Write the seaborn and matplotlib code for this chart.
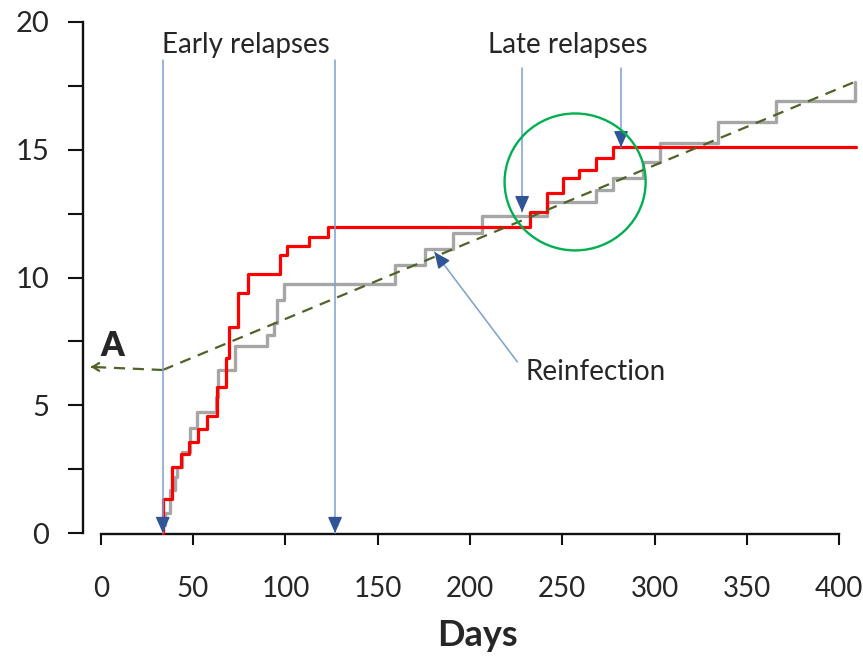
import matplotlib
matplotlib.use("Agg")
import matplotlib.pyplot as plt
from matplotlib.patches import Ellipse
import seaborn as sns
import pandas as pd

# ---- data ----
red_days = [33.6, 33.6, 38.6, 43.3, 48.0, 52.9, 57.7, 62.8, 67.9, 69.6, 74.5, 79.6,
            97.1, 101.1, 113.0, 123.3, 232.5, 241.5, 250.2, 259.2, 268.2, 277.6, 409.0]
red_vals = [0.0, 1.33, 2.6, 3.09, 3.57, 4.07, 4.58, 5.73, 6.84, 8.07, 9.41, 10.14,
            10.88, 11.23, 11.6, 11.96, 12.58, 13.3, 13.88, 14.21, 14.66, 15.12, 15.12]

gray_days = [34.6, 34.9, 37.5, 40.2, 41.1, 43.8, 48.4, 52.0, 62.5, 63.7, 72.7, 89.9,
             94.0, 95.3, 99.4, 159.4, 175.6, 190.6, 206.3, 241.5, 268.2, 277.3, 293.9,
             302.9, 334.5, 365.7, 408.5]
gray_vals = [0.3, 0.78, 1.68, 2.2, 2.58, 3.17, 4.1, 4.75, 5.33, 6.38, 7.32, 7.75,
             8.2, 9.12, 9.75, 10.48, 11.1, 11.76, 12.41, 12.97, 13.42, 13.88, 14.53,
             15.25, 16.1, 16.92, 17.66]

trend_days = [33.6, 408.5]
trend_vals = [6.38, 17.66]
trend_arrow_end = (-6.9, 6.5)

early_relapse_days = [33.6, 126.9]
late_relapse_days = [228.2, 281.8]
late_relapse_tips = [12.56, 15.1]
reinfection_tip = (180.7, 11.0)
reinfection_start = (225.6, 6.7)

x_ticks = [0, 50, 100, 150, 200, 250, 300, 350, 400]
y_major = [0, 5, 10, 15, 20]
y_minor = [2.5, 7.5, 12.5, 17.5]

# ---- style ----
sns.set_style("white")
plt.rcParams['font.family'] = ['Lato', 'DejaVu Sans']

W, H = 863, 659
fig = plt.figure(figsize=(W / 100, H / 100), dpi=100)
ax = fig.add_axes([83.2 / W, (H - 533) / H, (861.5 - 83.2) / W, (533 - 22) / H])
ax.set_xlim(-9.5, 412)
ax.set_ylim(0, 20)

red_c = "#ff0000"
gray_c = "#a6a6a6"
olive = "#4f6228"
blue_line = "#7f9fd0"
blue_head = "#2f5597"
green = "#00b050"

df_gray = pd.DataFrame({"day": gray_days, "val": gray_vals})
df_red = pd.DataFrame({"day": red_days, "val": red_vals})
df_trend = pd.DataFrame({"day": trend_days, "val": trend_vals})

sns.lineplot(data=df_gray, x="day", y="val", ax=ax, estimator=None, sort=False,
             drawstyle="steps-post", color=gray_c, lw=2.4, clip_on=False, zorder=3)
sns.lineplot(data=df_red, x="day", y="val", ax=ax, estimator=None, sort=False,
             drawstyle="steps-post", color=red_c, lw=2.3, clip_on=False, zorder=4)
sns.lineplot(data=df_trend, x="day", y="val", ax=ax, estimator=None, sort=False,
             color=olive, lw=1.6, dashes=False, clip_on=False, zorder=5)
ax.lines[-1].set_linestyle((0, (5, 3.5)))

# dashed arrow to the left ("A")
ax.plot([trend_days[0], trend_arrow_end[0] + 2], [trend_vals[0], trend_arrow_end[1]],
        color=olive, lw=1.6, ls=(0, (5, 3.5)), clip_on=False, zorder=5)
ax.annotate("", xy=trend_arrow_end, xytext=(trend_arrow_end[0] + 4, trend_arrow_end[1]),
            arrowprops=dict(arrowstyle="->,head_length=0.45,head_width=0.28", color=olive,
                            lw=1.6), annotation_clip=False)


def blue_arrow(x0, y0, x1, y1):
    ax.plot([x0, x1], [y0, y1], color=blue_line, lw=1.1, zorder=6, clip_on=False)
    dx, dy = x1 - x0, y1 - y0
    ax.annotate("", xy=(x1, y1), xytext=(x1 - dx * 0.02, y1 - dy * 0.02),
                arrowprops=dict(arrowstyle="-|>,head_length=0.9,head_width=0.4",
                                color=blue_head, lw=1.0, mutation_scale=11,
                                shrinkA=0, shrinkB=0),
                annotation_clip=False, zorder=7)


for d in early_relapse_days:
    blue_arrow(d, 18.5, d, 0.0)
for d, t in zip(late_relapse_days, late_relapse_tips):
    blue_arrow(d, 18.2, d, t)
blue_arrow(reinfection_start[0], reinfection_start[1], reinfection_tip[0], reinfection_tip[1])

# green circle
ax.add_patch(Ellipse((256.9, 13.74), 76.4, 5.36, fill=False, edgecolor=green, lw=1.7,
                     zorder=8))

# texts
ax.text(78.7, 19.1, "Early relapses", ha="center", va="center", fontsize=20)
ax.text(253.0, 19.1, "Late relapses", ha="center", va="center", fontsize=20)
ax.text(229.8, 6.3, "Reinfection", ha="left", va="center", fontsize=20)
ax.text(6.1, 7.32, "A", ha="center", va="center", fontsize=24, fontweight="heavy")
fig.text(477 / W, 1 - 635 / H, "Days", ha="center", va="center", fontsize=26,
         fontweight="bold")

# axes
for s in ["top", "right"]:
    ax.spines[s].set_visible(False)
ax.spines["left"].set_bounds(0, 20)
ax.spines["bottom"].set_bounds(0, 400)
ax.spines["bottom"].set_position(("outward", 1))
for s in ["left", "bottom"]:
    ax.spines[s].set_linewidth(1.7)
    ax.spines[s].set_color("#111111")

ax.set_xticks(x_ticks)
ax.set_xticklabels([str(t) for t in x_ticks])
ax.set_yticks(y_major)
ax.set_yticklabels([str(t) for t in y_major])
ax.set_yticks(y_minor, minor=True)
ax.tick_params(axis="y", which="both", direction="out", length=10.5, width=1.5,
               color="#111111", left=True)
ax.tick_params(axis="y", which="major", labelsize=21, pad=14)
ax.tick_params(axis="x", which="major", direction="out", length=8, width=1.5,
               color="#111111", labelsize=20, pad=22, bottom=True)
ax.set_xlabel("")
ax.set_ylabel("")

fig.savefig("out.png", dpi=100)
